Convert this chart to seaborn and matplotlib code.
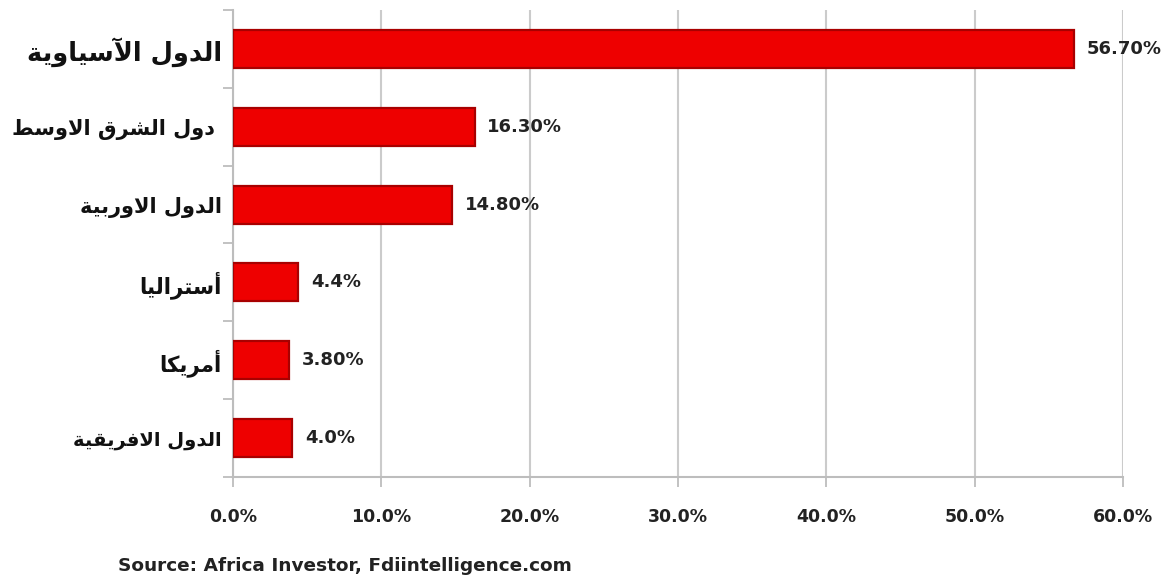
import matplotlib
matplotlib.use("Agg")
import matplotlib.pyplot as plt
from matplotlib.ticker import FuncFormatter, FixedLocator
import seaborn as sns
import pandas as pd

# ---------------- data ----------------
categories = ["الدول الآسياوية", " دول الشرق الاوسط", "الدول الاوربية",
              "أستراليا", "أمريكا", "الدول الافريقية"]
values = [56.7, 16.3, 14.8, 4.4, 3.8, 4.0]
value_labels = ["56.70%", "16.30%", "14.80%", "4.4%", "3.80%", "4.0%"]
x_ticks = [0, 10, 20, 30, 40, 50, 60]
source_text = "Source: Africa Investor, Fdiintelligence.com"

# ------------- minimal Arabic shaping (presentation forms) -------------
FORMS = {
    '\u0627': ('\uFE8D', '\uFE8E'),
    '\u0623': ('\uFE83', '\uFE84'),
    '\u0622': ('\uFE81', '\uFE82'),
    '\u0628': ('\uFE8F', '\uFE90', '\uFE91', '\uFE92'),
    '\u0629': ('\uFE93', '\uFE94'),
    '\u062A': ('\uFE95', '\uFE96', '\uFE97', '\uFE98'),
    '\u062F': ('\uFEA9', '\uFEAA'),
    '\u0631': ('\uFEAD', '\uFEAE'),
    '\u0633': ('\uFEB1', '\uFEB2', '\uFEB3', '\uFEB4'),
    '\u0634': ('\uFEB5', '\uFEB6', '\uFEB7', '\uFEB8'),
    '\u0637': ('\uFEC1', '\uFEC2', '\uFEC3', '\uFEC4'),
    '\u0641': ('\uFED1', '\uFED2', '\uFED3', '\uFED4'),
    '\u0642': ('\uFED5', '\uFED6', '\uFED7', '\uFED8'),
    '\u0643': ('\uFED9', '\uFEDA', '\uFEDB', '\uFEDC'),
    '\u0644': ('\uFEDD', '\uFEDE', '\uFEDF', '\uFEE0'),
    '\u0645': ('\uFEE1', '\uFEE2', '\uFEE3', '\uFEE4'),
    '\u0648': ('\uFEED', '\uFEEE'),
    '\u064A': ('\uFEF1', '\uFEF2', '\uFEF3', '\uFEF4'),
    'LA': ('\uFEFB', '\uFEFC'),
    'LAA': ('\uFEF5', '\uFEF6'),
    'LAH': ('\uFEF7', '\uFEF8'),
}
LIG = {'\u0627': 'LA', '\u0622': 'LAA', '\u0623': 'LAH'}


def shape(text):
    toks = []
    i = 0
    while i < len(text):
        c = text[i]
        if c == '\u0644' and i + 1 < len(text) and text[i + 1] in LIG:
            toks.append(LIG[text[i + 1]])
            i += 2
        else:
            toks.append(c)
            i += 1
    out = []
    for k, t in enumerate(toks):
        if t not in FORMS:
            out.append(t)
            continue
        f = FORMS[t]
        prev_j = k > 0 and toks[k - 1] in FORMS and len(FORMS[toks[k - 1]]) == 4
        next_a = k + 1 < len(toks) and toks[k + 1] in FORMS
        if len(f) == 4:
            if prev_j and next_a:
                out.append(f[3])
            elif prev_j:
                out.append(f[1])
            elif next_a:
                out.append(f[2])
            else:
                out.append(f[0])
        else:
            out.append(f[1] if prev_j else f[0])
    return "".join(out)[::-1]


# ---------------- plot ----------------
sns.set_theme(style="white")
plt.rcParams['font.family'] = ['DejaVu Sans']

df = pd.DataFrame({"cat": categories, "val": values})

fig = plt.figure(figsize=(11.7, 5.84), dpi=100)
ax = fig.add_axes([0.1991, 0.1832, 0.9598 - 0.1991, 0.9829 - 0.1832])

sns.barplot(data=df, x="val", y="cat", orient="h", color="#ee0000",
            edgecolor="#a80000", linewidth=1.6, width=0.49, ax=ax,
            zorder=3, saturation=1)

ax.set_xlim(0, 60)
ax.set_ylim(len(categories) - 0.5, -0.5)
ax.xaxis.set_major_locator(FixedLocator(x_ticks))
ax.xaxis.set_major_formatter(FuncFormatter(lambda v, p: f"{v:.1f}%"))
ax.grid(axis="x", color="#cbcbcb", linewidth=1.5, zorder=0)
ax.grid(axis="y", visible=False)
ax.set_xlabel("")
ax.set_ylabel("")

for s in ["top", "right"]:
    ax.spines[s].set_visible(False)
for s in ["left", "bottom"]:
    ax.spines[s].set_color("#bdbdbd")
    ax.spines[s].set_linewidth(1.5)

ax.tick_params(axis="x", which="major", bottom=True, length=7, width=1.3,
               color="#bdbdbd", pad=15, labelsize=12.5, labelcolor="#222222")
for t in ax.get_xticklabels():
    t.set_fontweight("bold")

# category boundary tick marks on the left
ax.yaxis.set_minor_locator(FixedLocator([i - 0.5 for i in range(len(categories) + 1)]))
ax.tick_params(axis="y", which="minor", left=True, length=7, width=1.3, color="#bdbdbd")
ax.tick_params(axis="y", which="major", left=False, pad=2, labelcolor="#111111")
ax.set_yticks(range(len(categories)))
ax.set_yticklabels([shape(c) for c in categories])
label_sizes = [18.5, 15, 15, 15.5, 15.5, 14]
for t, sz in zip(ax.get_yticklabels(), label_sizes):
    t.set_fontsize(sz)
    t.set_fontweight("bold")

ax.bar_label(ax.containers[0], labels=value_labels, padding=9,
             fontsize=13, fontweight="bold", color="#222222")

fig.text(0.101, 0.031, source_text, fontsize=13.3, fontweight="bold",
         color="#222222", va="center", ha="left")

fig.savefig("out.png", dpi=100)
